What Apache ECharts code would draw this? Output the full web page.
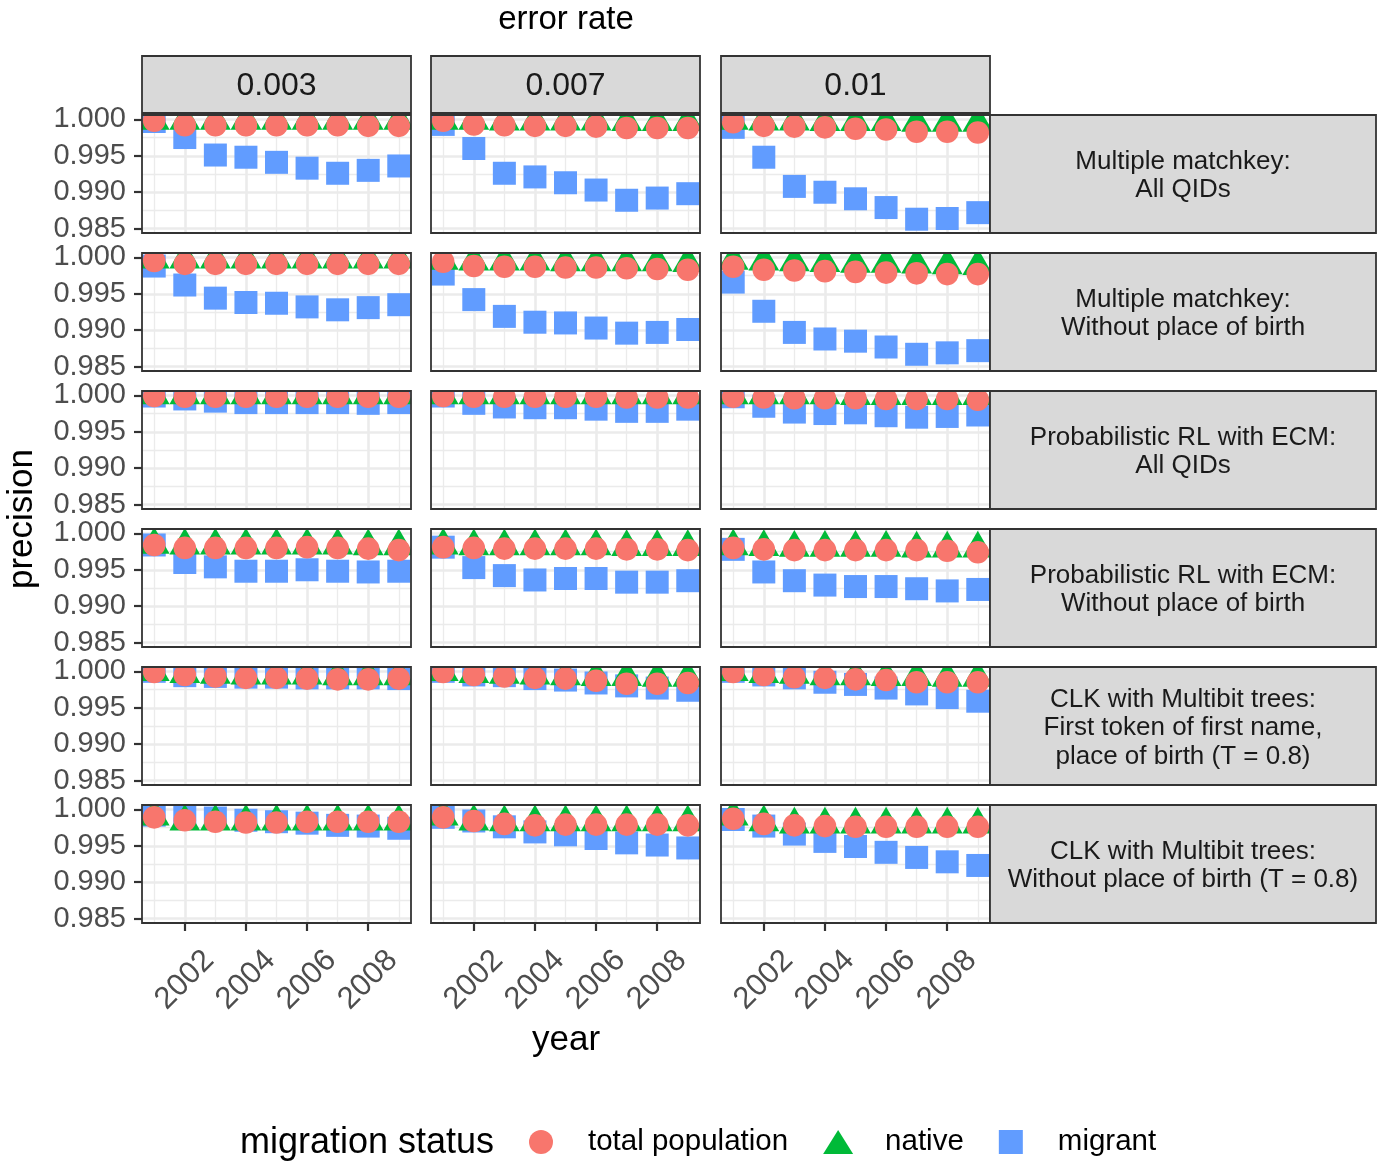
<!DOCTYPE html>
<html>
<head>
<meta charset="utf-8" />
<title>precision by migration status</title>
<style type="text/css">
  html, body { margin: 0; padding: 0; background: #fff; }
  #chart { width: 1385px; height: 1170px; }
</style>
</head>
<body>
<div id="chart"></div>
<script src="https://cdn.jsdelivr.net/npm/echarts@6/dist/echarts.min.js"></script>
<script>
var years = [2001, 2002, 2003, 2004, 2005, 2006, 2007, 2008, 2009];
var errorRates = ['0.003', '0.007', '0.01'];
var methods = [
  'Multiple matchkey:\nAll QIDs',
  'Multiple matchkey:\nWithout place of birth',
  'Probabilistic RL with ECM:\nAll QIDs',
  'Probabilistic RL with ECM:\nWithout place of birth',
  'CLK with Multibit trees:\nFirst token of first name,\nplace of birth (T = 0.8)',
  'CLK with Multibit trees:\nWithout place of birth (T = 0.8)'
];
var statuses = ['total population', 'native', 'migrant'];
var yTicks = [0.985, 0.990, 0.995, 1.000];
var yMinorTicks = [0.9875, 0.9925, 0.9975];
var xTicks = [2002, 2004, 2006, 2008];
var xMinorTicks = [2001, 2003, 2005, 2007, 2009];

// one array per method and status, one row per error rate (0.003, 0.007, 0.01)
var mmAllTotal = [
  [0.9998, 0.9992, 0.9992, 0.9992, 0.9992, 0.9992, 0.9992, 0.9991, 0.9991],
  [0.9998, 0.9993, 0.9992, 0.9991, 0.9991, 0.9990, 0.9988, 0.9988, 0.9988],
  [0.9996, 0.9991, 0.9990, 0.9989, 0.9987, 0.9986, 0.9983, 0.9983, 0.9982]
];
var mmAllNative = [
  [0.9998, 0.9998, 0.9998, 0.9998, 0.9998, 0.9998, 0.9998, 0.9998, 0.9998],
  [0.9998, 0.9998, 0.9997, 0.9997, 0.9997, 0.9997, 0.9996, 0.9996, 0.9996],
  [0.9998, 0.9997, 0.9997, 0.9996, 0.9996, 0.9996, 0.9995, 0.9995, 0.9995]
];
var mmAllMigrant = [
  [0.9997, 0.9975, 0.9951, 0.9948, 0.9941, 0.9933, 0.9926, 0.9930, 0.9936],
  [0.9993, 0.9960, 0.9926, 0.9921, 0.9913, 0.9903, 0.9889, 0.9892, 0.9898],
  [0.9989, 0.9948, 0.9908, 0.9900, 0.9891, 0.9879, 0.9863, 0.9864, 0.9872]
];
var mmNoPobTotal = [
  [0.9995, 0.9991, 0.9991, 0.9991, 0.9991, 0.9991, 0.9991, 0.9991, 0.9991],
  [0.9994, 0.9988, 0.9987, 0.9987, 0.9986, 0.9986, 0.9985, 0.9984, 0.9983],
  [0.9987, 0.9983, 0.9982, 0.9981, 0.9980, 0.9979, 0.9978, 0.9977, 0.9977]
];
var mmNoPobNative = [
  [0.9997, 0.9997, 0.9997, 0.9997, 0.9997, 0.9997, 0.9997, 0.9997, 0.9997],
  [0.9995, 0.9994, 0.9994, 0.9994, 0.9993, 0.9993, 0.9993, 0.9993, 0.9992],
  [0.9995, 0.9994, 0.9993, 0.9992, 0.9991, 0.9991, 0.9990, 0.9989, 0.9988]
];
var mmNoPobMigrant = [
  [0.9988, 0.9962, 0.9944, 0.9938, 0.9937, 0.9932, 0.9928, 0.9931, 0.9935],
  [0.9977, 0.9942, 0.9919, 0.9911, 0.9910, 0.9903, 0.9896, 0.9897, 0.9901],
  [0.9966, 0.9926, 0.9897, 0.9888, 0.9885, 0.9877, 0.9867, 0.9869, 0.9872]
];
var ecmAllTotal = [
  [0.9999, 0.9998, 0.9998, 0.9998, 0.9998, 0.9998, 0.9998, 0.9998, 0.9998],
  [0.9999, 0.9998, 0.9998, 0.9998, 0.9998, 0.9998, 0.9997, 0.9997, 0.9997],
  [0.9998, 0.9997, 0.9996, 0.9996, 0.9996, 0.9995, 0.9995, 0.9995, 0.9994]
];
var ecmAllNative = [
  [1.0000, 1.0000, 1.0000, 1.0000, 1.0000, 1.0000, 1.0000, 1.0000, 1.0000],
  [1.0000, 1.0000, 1.0000, 1.0000, 1.0000, 1.0000, 1.0000, 1.0000, 1.0000],
  [1.0000, 1.0000, 1.0000, 1.0000, 0.9999, 0.9999, 0.9999, 0.9999, 0.9999]
];
var ecmAllMigrant = [
  [0.9999, 0.9995, 0.9992, 0.9990, 0.9990, 0.9990, 0.9990, 0.9989, 0.9990],
  [0.9999, 0.9989, 0.9984, 0.9983, 0.9983, 0.9981, 0.9978, 0.9978, 0.9981],
  [0.9998, 0.9985, 0.9977, 0.9975, 0.9976, 0.9972, 0.9970, 0.9971, 0.9973]
];
var ecmNoPobTotal = [
  [0.9984, 0.9980, 0.9980, 0.9980, 0.9980, 0.9981, 0.9980, 0.9979, 0.9977],
  [0.9981, 0.9980, 0.9979, 0.9979, 0.9979, 0.9979, 0.9978, 0.9978, 0.9977],
  [0.9980, 0.9978, 0.9977, 0.9977, 0.9977, 0.9977, 0.9977, 0.9976, 0.9974]
];
var ecmNoPobNative = [
  [0.9984, 0.9983, 0.9983, 0.9983, 0.9983, 0.9983, 0.9983, 0.9982, 0.9982],
  [0.9983, 0.9982, 0.9982, 0.9982, 0.9982, 0.9982, 0.9981, 0.9981, 0.9981],
  [0.9982, 0.9981, 0.9980, 0.9980, 0.9980, 0.9980, 0.9979, 0.9979, 0.9979]
];
var ecmNoPobMigrant = [
  [0.9984, 0.9960, 0.9954, 0.9948, 0.9948, 0.9950, 0.9948, 0.9947, 0.9948],
  [0.9981, 0.9953, 0.9942, 0.9936, 0.9938, 0.9938, 0.9933, 0.9933, 0.9935],
  [0.9978, 0.9947, 0.9935, 0.9929, 0.9927, 0.9927, 0.9924, 0.9921, 0.9923]
];
var clkFirstTotal = [
  [0.9999, 0.9995, 0.9993, 0.9991, 0.9991, 0.9990, 0.9989, 0.9989, 0.9990],
  [0.9999, 0.9995, 0.9993, 0.9991, 0.9990, 0.9987, 0.9983, 0.9983, 0.9984],
  [0.9999, 0.9995, 0.9992, 0.9991, 0.9989, 0.9988, 0.9985, 0.9985, 0.9985]
];
var clkFirstNative = [
  [0.9999, 0.9996, 0.9995, 0.9994, 0.9994, 0.9994, 0.9993, 0.9993, 0.9993],
  [0.9999, 0.9996, 0.9995, 0.9994, 0.9993, 0.9992, 0.9992, 0.9991, 0.9991],
  [0.9999, 0.9996, 0.9995, 0.9993, 0.9993, 0.9992, 0.9992, 0.9991, 0.9991]
];
var clkFirstMigrant = [
  [1.0000, 0.9994, 0.9993, 0.9992, 0.9992, 0.9991, 0.9991, 0.9991, 0.9990],
  [1.0000, 0.9995, 0.9994, 0.9990, 0.9988, 0.9984, 0.9980, 0.9977, 0.9974],
  [1.0000, 0.9995, 0.9991, 0.9985, 0.9982, 0.9977, 0.9969, 0.9964, 0.9959]
];
var clkNoPobTotal = [
  [0.9989, 0.9985, 0.9983, 0.9982, 0.9982, 0.9983, 0.9983, 0.9983, 0.9983],
  [0.9989, 0.9984, 0.9980, 0.9978, 0.9979, 0.9979, 0.9979, 0.9979, 0.9978],
  [0.9987, 0.9980, 0.9978, 0.9977, 0.9976, 0.9976, 0.9976, 0.9976, 0.9976]
];
var clkNoPobNative = [
  [0.9990, 0.9983, 0.9983, 0.9983, 0.9983, 0.9983, 0.9983, 0.9983, 0.9983],
  [0.9990, 0.9983, 0.9982, 0.9982, 0.9982, 0.9982, 0.9982, 0.9982, 0.9982],
  [0.9990, 0.9982, 0.9979, 0.9979, 0.9979, 0.9979, 0.9979, 0.9979, 0.9979]
];
var clkNoPobMigrant = [
  [0.9992, 0.9991, 0.9988, 0.9985, 0.9983, 0.9981, 0.9978, 0.9977, 0.9974],
  [0.9989, 0.9984, 0.9976, 0.9969, 0.9965, 0.9960, 0.9954, 0.9951, 0.9947],
  [0.9986, 0.9977, 0.9966, 0.9956, 0.9949, 0.9941, 0.9934, 0.9928, 0.9923]
];

var panelData = [
  [mmAllTotal, mmAllNative, mmAllMigrant],
  [mmNoPobTotal, mmNoPobNative, mmNoPobMigrant],
  [ecmAllTotal, ecmAllNative, ecmAllMigrant],
  [ecmNoPobTotal, ecmNoPobNative, ecmNoPobMigrant],
  [clkFirstTotal, clkFirstNative, clkFirstMigrant],
  [clkNoPobTotal, clkNoPobNative, clkNoPobMigrant]
];

var FONT = '"Liberation Sans", Arial, Helvetica, sans-serif';
var colors = ['#F8766D', '#00BA38', '#619CFF'];
var shapes = ['circle', 'triangle', 'square'];
var colLeft = [142, 431, 721];
var rowTop = [115, 253, 391, 529, 667, 805];
var panelW = 269, panelH = 118;
var Y_MIN = 0.98441, Y_MAX = 1.00059;
var X_MIN = 2000.6, X_MAX = 2009.4;

function markShape(shape, p) {
  if (shape === 'circle') {
    return { type: 'circle', shape: { cx: p[0], cy: p[1], r: 11.3 } };
  }
  if (shape === 'triangle') {
    // R pch 17: apex r above centre, base r/2 below
    return { type: 'polygon', shape: { points: [
      [p[0], p[1] - 17.8], [p[0] + 15.4, p[1] + 8.9], [p[0] - 15.4, p[1] + 8.9]
    ] } };
  }
  return { type: 'rect', shape: { x: p[0] - 11.5, y: p[1] - 11.5, width: 23, height: 23 } };
}

function makeRenderer(k) {
  return function (params, api) {
    var p = api.coord([api.value(0), api.value(1)]);
    var el = markShape(shapes[k], p);
    el.style = { fill: colors[k] };
    return el;
  };
}

var grids = [], xAxes = [], yAxes = [], series = [], graphics = [];

for (var r = 0; r < methods.length; r++) {
  for (var c = 0; c < errorRates.length; c++) {
    var g = r * 3 + c;
    grids.push({
      left: colLeft[c], top: rowTop[r], width: panelW, height: panelH,
      show: true, z: 6, backgroundColor: 'transparent',
      borderColor: '#333333', borderWidth: 1.8
    });
    xAxes.push({
      gridIndex: g, type: 'value', min: X_MIN, max: X_MAX, position: 'bottom',
      axisLine: { show: false, onZero: false },
      axisTick: { show: r === 5, customValues: xTicks, length: 8, lineStyle: { color: '#333333', width: 2.2 } },
      axisLabel: {
        show: r === 5, customValues: xTicks, rotate: 45, align: 'center', verticalAlign: 'middle',
        margin: 57, fontSize: 31, color: '#4D4D4D', fontFamily: FONT,
        formatter: function (v) { return String(v); }
      },
      splitLine: { show: true, lineStyle: { color: '#EBEBEB', width: 2.6 } }
    });
    xAxes.push({
      gridIndex: g, type: 'value', min: X_MIN, max: X_MAX, position: 'top',
      axisLine: { show: false, onZero: false },
      axisTick: { show: false, customValues: xMinorTicks },
      axisLabel: { show: false, customValues: xMinorTicks },
      splitLine: { show: true, lineStyle: { color: '#EBEBEB', width: 1.3 } }
    });
    yAxes.push({
      gridIndex: g, type: 'value', min: Y_MIN, max: Y_MAX, position: 'left',
      axisLine: { show: false, onZero: false },
      axisTick: { show: c === 0, customValues: yTicks, length: 8, lineStyle: { color: '#333333', width: 2.2 } },
      axisLabel: {
        show: c === 0, customValues: yTicks, margin: 16, fontSize: 29, color: '#4D4D4D', fontFamily: FONT,
        formatter: function (v) { return v.toFixed(3); }
      },
      splitLine: { show: true, lineStyle: { color: '#EBEBEB', width: 2.6 } }
    });
    yAxes.push({
      gridIndex: g, type: 'value', min: Y_MIN, max: Y_MAX, position: 'right',
      axisLine: { show: false, onZero: false },
      axisTick: { show: false, customValues: yMinorTicks },
      axisLabel: { show: false, customValues: yMinorTicks },
      splitLine: { show: true, lineStyle: { color: '#EBEBEB', width: 1.3 } }
    });
    // migrant underneath, total population on top
    [2, 1, 0].forEach(function (k, order) {
      var vals = panelData[r][k][c];
      series.push({
        type: 'custom', name: statuses[k],
        xAxisIndex: g * 2, yAxisIndex: g * 2,
        clip: true, z: 2 + order,
        itemStyle: { color: colors[k] },
        renderItem: makeRenderer(k),
        data: years.map(function (yr, i) { return [yr, vals[i]]; })
      });
    });
  }
}

// facet strips
errorRates.forEach(function (lab, c) {
  graphics.push({ type: 'rect', z: 10, shape: { x: colLeft[c], y: 56, width: panelW, height: 57 },
    style: { fill: '#D9D9D9', stroke: '#333333', lineWidth: 1.8 } });
  graphics.push({ type: 'text', z: 11, x: colLeft[c] + panelW / 2, y: 86,
    style: { text: lab, fontSize: 32, fontFamily: FONT, fill: '#1A1A1A', align: 'center', verticalAlign: 'middle' } });
});
methods.forEach(function (lab, r) {
  graphics.push({ type: 'rect', z: 10, shape: { x: 990, y: rowTop[r], width: 386, height: panelH },
    style: { fill: '#D9D9D9', stroke: '#333333', lineWidth: 1.8 } });
  graphics.push({ type: 'text', z: 11, x: 1183, y: rowTop[r] + panelH / 2 + 2,
    style: { text: lab, fontSize: 26, lineHeight: 28.5, fontFamily: FONT, fill: '#1A1A1A', align: 'center', verticalAlign: 'middle' } });
});
// titles
graphics.push({ type: 'text', x: 566, y: 20,
  style: { text: 'error rate', fontSize: 33, fontFamily: FONT, fill: '#000', align: 'center', verticalAlign: 'middle' } });
graphics.push({ type: 'text', x: 566, y: 1040,
  style: { text: 'year', fontSize: 35, fontFamily: FONT, fill: '#000', align: 'center', verticalAlign: 'middle' } });
graphics.push({ type: 'text', x: 22, y: 519, rotation: Math.PI / 2,
  style: { text: 'precision', fontSize: 35, fontFamily: FONT, fill: '#000', align: 'center', verticalAlign: 'middle' } });
graphics.push({ type: 'text', x: 240, y: 1143,
  style: { text: 'migration status', fontSize: 36, fontFamily: FONT, fill: '#000', align: 'left', verticalAlign: 'middle' } });

var myChart = echarts.init(document.getElementById('chart'));
myChart.setOption({
  animation: false,
  backgroundColor: '#fff',
  grid: grids,
  xAxis: xAxes,
  yAxis: yAxes,
  series: series,
  legend: {
    left: 529, top: 1127, orient: 'horizontal', padding: 0,
    itemWidth: 30, itemHeight: 24, itemGap: 35, selectedMode: false,
    textStyle: { fontSize: 29.5, color: '#000', fontFamily: FONT, padding: [0, 0, 0, 27] },
    data: [
      { name: 'total population', icon: 'circle' },
      { name: 'native', icon: 'triangle' },
      { name: 'migrant', icon: 'path://M0,0h10v10h-10z' }
    ]
  },
  graphic: graphics
});
</script>
</body>
</html>
